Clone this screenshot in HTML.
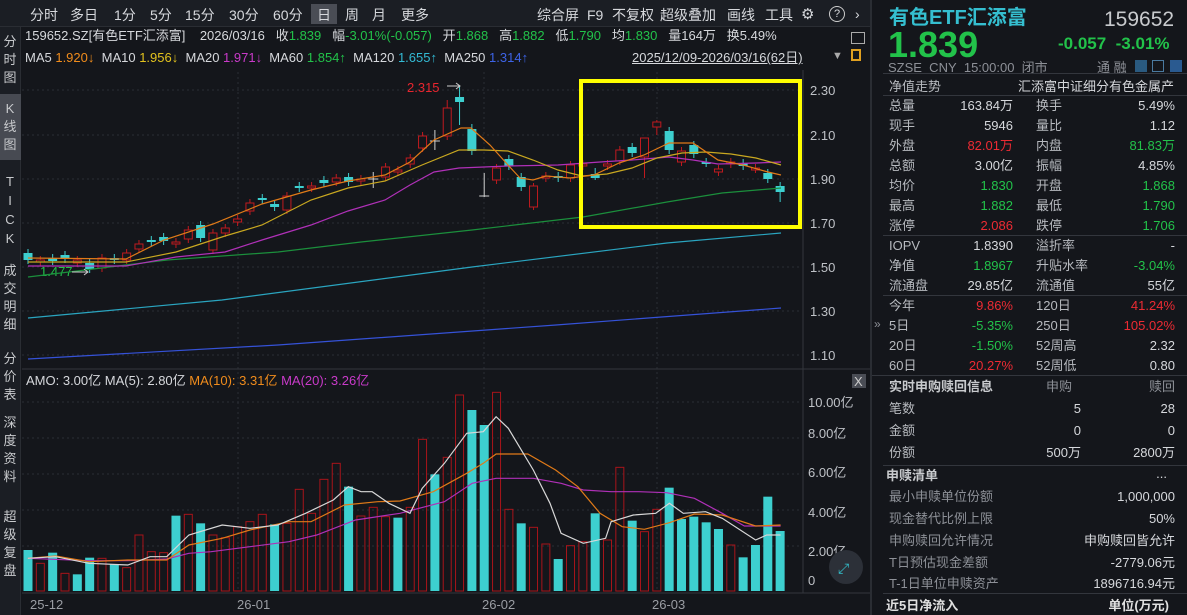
<!DOCTYPE html>
<html><head><meta charset="utf-8">
<style>
*{margin:0;padding:0;box-sizing:border-box}
body{width:1187px;height:615px;background:#14161b;overflow:hidden;position:relative;font-family:"Liberation Sans","Noto Sans CJK SC",sans-serif;color:#d6d8dc;font-size:13px}
.a{position:absolute;white-space:nowrap;line-height:1}
.g{color:#22c24a}.r{color:#ec2b33}.o{color:#f08c1c}.y{color:#e2c21e}.m{color:#c93ac9}.c{color:#33b9d3}.b{color:#3d63e6}.w{color:#d6d8dc}.gr{color:#8d9097}
.side{position:absolute;left:0;width:20px;text-align:center;font-size:13px;line-height:18px;color:#c8cacd}
.rp .a{font-size:13px}
.lab{color:#b7babf}
</style></head><body>
<!-- top bar -->
<div style="position:absolute;left:0;top:0;width:870px;height:27px;background:#1b1e24;border-bottom:1px solid #2a2d33"></div>
<div style="position:absolute;left:311px;top:4px;width:26px;height:20px;background:#4a4d55"></div>
<div class="a" style="top:8px;left:30px;font-size:14px">分时</div>
<div class="a" style="top:8px;left:70px;font-size:14px">多日</div>
<div class="a" style="top:8px;left:114px;font-size:14px">1分</div>
<div class="a" style="top:8px;left:150px;font-size:14px">5分</div>
<div class="a" style="top:8px;left:185px;font-size:14px">15分</div>
<div class="a" style="top:8px;left:229px;font-size:14px">30分</div>
<div class="a" style="top:8px;left:273px;font-size:14px">60分</div>
<div class="a" style="top:8px;left:317px;font-size:14px">日</div>
<div class="a" style="top:8px;left:345px;font-size:14px">周</div>
<div class="a" style="top:8px;left:372px;font-size:14px">月</div>
<div class="a" style="top:8px;left:401px;font-size:14px">更多</div>
<div class="a" style="top:8px;left:537px;font-size:14px">综合屏</div>
<div class="a" style="top:8px;left:587px;font-size:14px">F9</div>
<div class="a" style="top:8px;left:612px;font-size:14px">不复权</div>
<div class="a" style="top:8px;left:660px;font-size:14px">超级叠加</div>
<div class="a" style="top:8px;left:727px;font-size:14px">画线</div>
<div class="a" style="top:8px;left:765px;font-size:14px">工具</div>
<div class="a" style="top:7px;left:801px;font-size:15px">⚙</div>
<div class="a" style="top:6px;left:829px;width:16px;height:16px;border:1px solid #ccc;border-radius:50%;font-size:11px;text-align:center;line-height:14px">?</div>
<div class="a" style="top:7px;left:855px;font-size:14px">›</div>

<!-- left sidebar -->
<div style="position:absolute;left:0;top:27px;width:21px;height:588px;background:#1b1e24;border-right:1px solid #2a2d33"></div>
<div style="position:absolute;left:0;top:94px;width:21px;height:66px;background:#474a52"></div>
<div class="side" style="top:33px">分<br>时<br>图</div>
<div class="side" style="top:100px">K<br>线<br>图</div>
<div class="side" style="top:172px;line-height:19px">T<br>I<br>C<br>K</div>
<div class="side" style="top:262px">成<br>交<br>明<br>细</div>
<div class="side" style="top:350px">分<br>价<br>表</div>
<div class="side" style="top:414px">深<br>度<br>资<br>料</div>
<div class="side" style="top:508px">超<br>级<br>复<br>盘</div>

<!-- info rows -->
<div class="a" style="top:29px;left:25px">159652.SZ[有色ETF汇添富]&nbsp;&nbsp;&nbsp; 2026/03/16&nbsp;&nbsp; 收<span class="g">1.839</span>&nbsp;&nbsp; 幅<span class="g">-3.01%(-0.057)</span>&nbsp;&nbsp; 开<span class="g">1.868</span>&nbsp;&nbsp; 高<span class="g">1.882</span>&nbsp;&nbsp; 低<span class="g">1.790</span>&nbsp;&nbsp; 均<span class="g">1.830</span>&nbsp;&nbsp; 量164万&nbsp;&nbsp; 换5.49%</div>
<div class="a" style="top:51px;left:25px">MA5 <span class="o">1.920↓</span>&nbsp; MA10 <span class="y">1.956↓</span>&nbsp; MA20 <span class="m">1.971↓</span>&nbsp; MA60 <span class="g">1.854↑</span>&nbsp; MA120 <span class="c">1.655↑</span>&nbsp; MA250 <span class="b">1.314↑</span></div>
<div class="a" style="top:51px;left:632px;text-decoration:underline">2025/12/09-2026/03/16(62日)</div>
<div class="a" style="top:51px;left:832px;font-size:11px;color:#aaa">▼</div>
<div class="a" style="top:49px;left:851px;width:10px;height:12px;border:2px solid #e0a020"></div>
<div class="a" style="top:32px;left:851px;width:14px;height:12px;border:1px solid #aaa"></div>

<svg style="position:absolute;left:0;top:0" width="870" height="615" id="ch">
<g stroke="#2a2d34" stroke-dasharray="2,3" stroke-width="1">
<line x1="22" x2="800" y1="90" y2="90"/><line x1="22" x2="800" y1="135" y2="135"/><line x1="22" x2="800" y1="179" y2="179"/><line x1="22" x2="800" y1="223" y2="223"/><line x1="22" x2="800" y1="267" y2="267"/><line x1="22" x2="800" y1="311" y2="311"/><line x1="22" x2="800" y1="355" y2="355"/>
<line x1="238" x2="238" y1="72" y2="590"/><line x1="484" x2="484" y1="72" y2="590"/><line x1="657" x2="657" y1="72" y2="590"/>
<line x1="22" x2="800" y1="402" y2="402"/><line x1="22" x2="800" y1="438" y2="438"/><line x1="22" x2="800" y1="474" y2="474"/><line x1="22" x2="800" y1="510" y2="510"/><line x1="22" x2="800" y1="546" y2="546"/>
</g>
<line x1="803" x2="803" y1="70" y2="593" stroke="#33363d"/>
<line x1="22" x2="870" y1="369" y2="369" stroke="#33363d"/>
<line x1="22" x2="870" y1="593" y2="593" stroke="#33363d"/>
<g fill="#bfc2c7" font-size="13" font-family="Liberation Sans,sans-serif">
<text x="810" y="95">2.30</text><text x="810" y="140">2.10</text><text x="810" y="184">1.90</text><text x="810" y="228">1.70</text><text x="810" y="272">1.50</text><text x="810" y="316">1.30</text><text x="810" y="360">1.10</text>
<text x="808" y="407">10.00亿</text><text x="808" y="438">8.00亿</text><text x="808" y="477">6.00亿</text><text x="808" y="517">4.00亿</text><text x="808" y="556">2.00亿</text><text x="808" y="585">0</text>
<text x="30" y="609" fill="#9a9da3">25-12</text><text x="237" y="609" fill="#9a9da3">26-01</text><text x="482" y="609" fill="#9a9da3">26-02</text><text x="652" y="609" fill="#9a9da3">26-03</text>
</g>
<text x="407" y="92" fill="#e8252e" font-size="13" font-family="Liberation Sans">2.315</text>
<text x="40" y="276" fill="#22c24a" font-size="13" font-family="Liberation Sans">1.477</text>
<text x="26" y="385" fill="#d6d8dc" font-size="13" font-family="Liberation Sans,Noto Sans CJK SC">AMO: 3.00亿 MA(5): 2.80亿 <tspan fill="#f08c1c">MA(10): 3.31亿</tspan> <tspan fill="#c93ac9">MA(20): 3.26亿</tspan></text>
<rect x="852" y="374" width="14" height="14" fill="#4a4d55"/>
<text x="854" y="386" fill="#ccc" font-size="13">X</text>
<circle cx="846" cy="567" r="17" fill="#2c3038"/>
<text x="838" y="573" fill="#33c0cc" font-size="14">⤢</text>
<g id="cd"></g>
<rect x="581" y="81" width="219" height="146" fill="none" stroke="#ffff00" stroke-width="4"/>
</svg>

<!-- right panel -->
<div style="position:absolute;left:870px;top:0;width:2px;height:615px;background:#2a2d33"></div>
<div class="rp">
<div class="a" style="left:889px;top:8px;font-size:20px;font-weight:bold;color:#35bfd0">有色ETF汇添富</div>
<div class="a" style="left:1104px;top:9px;font-size:21px;color:#c8cacd">159652</div>
<div class="a g" style="left:888px;top:27px;font-size:36px;font-weight:bold">1.839</div>
<div class="a g" style="left:1058px;top:35px;font-size:17px;font-weight:bold">-0.057&nbsp; -3.01%</div>
<div class="a gr" style="left:888px;top:61px;font-size:13px">SZSE&nbsp; CNY&nbsp; 15:00:00&nbsp; 闭市</div>
<div class="a gr" style="left:1097px;top:61px;font-size:13px">通 融</div>
<div class="a" style="left:1135px;top:60px;width:12px;height:12px;background:#2a5a80"></div>
<div class="a" style="left:1152px;top:60px;width:12px;height:12px;border:1px solid #4a7aa0"></div>
<div class="a" style="left:1170px;top:60px;width:12px;height:12px;background:#2a5a90"></div>
<div style="position:absolute;left:883px;top:73px;width:304px;height:1px;background:#33363d"></div>
<div class="a lab" style="left:889px;top:80px">净值走势</div><div class="a" style="right:13px;top:80px">汇添富中证细分有色金属产</div>
<div style="position:absolute;left:883px;top:95px;width:304px;height:1px;background:#33363d"></div>
</div>
<div id="rows"></div>
<div style="position:absolute;left:883px;top:235px;width:304px;height:1px;background:#33363d"></div>
<div style="position:absolute;left:883px;top:295px;width:304px;height:1px;background:#33363d"></div>
<div style="position:absolute;left:872px;top:375px;width:315px;height:1px;background:#33363d"></div>
<div style="position:absolute;left:883px;top:465px;width:304px;height:1px;background:#33363d"></div>
<div style="position:absolute;left:883px;top:593px;width:304px;height:1px;background:#33363d"></div>
<div class="a gr" style="left:874px;top:318px;font-size:12px">»</div>

<script>
var rows=[
[99,"总量","163.84万","w","换手","5.49%","w"],
[119,"现手","5946","w","量比","1.12","w"],
[139,"外盘","82.01万","r","内盘","81.83万","g"],
[159,"总额","3.00亿","w","振幅","4.85%","w"],
[179,"均价","1.830","g","开盘","1.868","g"],
[199,"最高","1.882","g","最低","1.790","g"],
[219,"涨停","2.086","r","跌停","1.706","g"],
[239,"IOPV","1.8390","w","溢折率","-","w"],
[259,"净值","1.8967","g","升贴水率","-3.04%","g"],
[279,"流通盘","29.85亿","w","流通值","55亿","w"],
[299,"今年","9.86%","r","120日","41.24%","r"],
[319,"5日","-5.35%","g","250日","105.02%","r"],
[339,"20日","-1.50%","g","52周高","2.32","w"],
[359,"60日","20.27%","r","52周低","0.80","w"]];
var h="";
rows.forEach(function(r){h+='<div class="a lab" style="left:889px;top:'+r[0]+'px">'+r[1]+'</div><div class="a '+r[3]+'" style="right:174px;top:'+r[0]+'px">'+r[2]+'</div><div class="a lab" style="left:1036px;top:'+r[0]+'px">'+r[4]+'</div><div class="a '+r[6]+'" style="right:12px;top:'+r[0]+'px">'+r[5]+'</div>';});
h+='<div class="a" style="left:889px;top:380px;font-weight:bold;color:#c8cacd">实时申购赎回信息</div><div class="a gr" style="left:1046px;top:380px">申购</div><div class="a gr" style="right:12px;top:380px">赎回</div>';
[[402,"笔数","5","28"],[424,"金额","0","0"],[446,"份额","500万","2800万"]].forEach(function(r){h+='<div class="a lab" style="left:889px;top:'+r[0]+'px">'+r[1]+'</div><div class="a" style="right:106px;top:'+r[0]+'px">'+r[2]+'</div><div class="a" style="right:12px;top:'+r[0]+'px">'+r[3]+'</div>';});
h+='<div class="a" style="left:886px;top:469px;font-weight:bold;color:#c8cacd">申赎清单</div><div class="a" style="right:20px;top:467px">...</div>';
[[490,"最小申赎单位份额","1,000,000"],[512,"现金替代比例上限","50%"],[534,"申购赎回允许情况","申购赎回皆允许"],[556,"T日预估现金差额","-2779.06元"],[577,"T-1日单位申赎资产","1896716.94元"]].forEach(function(r){h+='<div class="a gr" style="left:889px;top:'+r[0]+'px">'+r[1]+'</div><div class="a" style="right:12px;top:'+r[0]+'px">'+r[2]+'</div>';});
h+='<div class="a" style="left:886px;top:599px;font-weight:bold;color:#e0e0e0">近5日净流入</div><div class="a" style="right:18px;top:599px;font-weight:bold;color:#e0e0e0">单位(万元)</div>';
document.getElementById('rows').innerHTML=h;

var C=[["c",253,260],["r",260,262],["c",258,261],["c",255,259],["r",260,263],["c",263,269],["r",258,268],["c",258,260],["r",253,260],["r",244,249],["c",240,242],["c",237,241],["r",242,244],["r",230,239],["c",225,238],["r",233,250],["r",228,233],["r",219,222],["r",203,211],["c",198,200],["c",204,207],["r",196,210],["c",186,188],["r",186,188],["c",180,183],["r",178,182],["c",177,182],["r",179,181],["w",179,180],["r",167,177],["r",170,172],["r",158,164],["r",136,148],["w",141,142],["r",108,136],["c",97,102],["c",129,151],["w",196,197],["r",168,180],["c",159,166],["c",177,187],["r",186,207],["r",176,178],["c",176,178],["r",165,178],["r",164,166],["c",174,178],["r",164,166],["r",150,161],["c",147,153],["r",138,157],["r",122,127],["c",131,150],["r",151,162],["c",145,154],["c",162,163],["r",169,172],["r",162,164],["c",163,166],["r",168,169],["c",173,179],["c",186,192]];
var W={35:[100,140],36:[86,125],37:[124,155],38:[173,197],42:[183,210],52:[120,135],62:[182,202],34:[130,150],29:[172,188],51:[152,178],47:[168,180]};
var V=[["c",540],["r",580],["c",548],["r",610],["c",613],["c",563],["r",565],["c",583],["r",593],["r",495],["r",545],["r",548],["c",437],["r",433],["c",460],["r",495],["r",503],["r",470],["r",455],["r",433],["c",463],["r",460],["r",358],["r",430],["r",328],["r",280],["c",350],["r",438],["r",412],["r",440],["c",443],["r",412],["r",208],["c",313],["r",262],["r",75],["c",120],["c",165],["r",67],["r",418],["c",460],["r",472],["r",522],["c",567],["r",527],["r",515],["c",430],["r",510],["r",292],["c",452],["r",485],["r",418],["c",353],["c",447],["c",440],["c",457],["c",477],["r",525],["c",562],["c",525],["c",380],["c",483]];
var s="";
function X(i){return 28+i*12.33;}
V.forEach(function(v,i){var x=X(i),t=370+v[1]/3;
 if(v[0]=="c")s+='<rect x="'+(x-4.5)+'" y="'+t+'" width="9" height="'+(591-t)+'" fill="#3dcfcf"/>';
 else s+='<rect x="'+(x-4)+'" y="'+t+'" width="8" height="'+(591-t)+'" fill="none" stroke="#a8141a" stroke-width="1"/>';});
C.forEach(function(c,i){var x=X(i),k=c[0],t=c[1],b=c[2];var w=W[i+1]||[t-4,b+4];
 var col=k=="c"?"#3dcfcf":(k=="r"?"#c01a1f":"#d0d0d0");
 s+='<line x1="'+x+'" x2="'+x+'" y1="'+w[0]+'" y2="'+w[1]+'" stroke="'+col+'"/>';
 if(k=="c")s+='<rect x="'+(x-4.5)+'" y="'+t+'" width="9" height="'+Math.max(2,b-t)+'" fill="#3dcfcf"/>';
 else if(k=="r")s+='<rect x="'+(x-4)+'" y="'+t+'" width="8" height="'+Math.max(2,b-t)+'" fill="#14161b" stroke="#c01a1f"/>';
 else s+='<line x1="'+(x-5)+'" x2="'+(x+5)+'" y1="'+t+'" y2="'+t+'" stroke="#d0d0d0"/>';});
function pl(p,c,w){return '<polyline fill="none" stroke="'+c+'" stroke-width="'+(w||1.2)+'" points="'+p.map(function(q){return q.join(",")}).join(" ")+'"/>';}
function zv(p){return p.map(function(q){return [(q[0]/1.8).toFixed(1),(370+q[1]/3).toFixed(1)];});}
s+=pl([[28,359],[278,345],[556,325],[781,308]],"#3552d8");
s+=pl([[28,318],[222,300],[472,267],[667,243],[781,233]],"#2aa5c0");
s+=pl([[28,277],[167,260],[278,252],[361,242],[472,230],[583,217],[667,202],[722,193],[781,188]],"#1b8f3c");
s+=pl([[28,266],[126,266],[176,257],[225,252],[262,240],[311,225],[348,211],[385,200],[410,185],[434,172],[459,168],[484,167],[508,166],[558,165],[600,162],[632,160],[669,157],[693,160],[718,164],[756,163],[781,162]],"#b030b8");
s+=pl([[28,262],[126,262],[176,252],[225,236],[262,225],[311,200],[348,188],[385,181],[422,165],[459,150],[484,150],[508,151],[533,160],[558,170],[582,176],[607,174],[632,168],[657,158],[682,153],[706,152],[731,154],[756,158],[781,165]],"#c9a820");
s+=pl([[28,258],[126,259],[164,240],[213,224],[262,204],[311,190],[348,181],[385,175],[410,162],[434,140],[461,128],[471,128],[490,145],[508,165],[520,178],[533,180],[546,176],[570,178],[594,175],[619,163],[644,155],[669,143],[693,143],[718,160],[743,165],[768,172],[781,175]],"#e07a18");
s+=pl(zv([[50,565],[160,572],[230,572],[300,567],[340,550],[380,545],[450,530],[520,515],[570,495],[640,450],[720,430],[800,395],[850,340],[893,325],[960,325],[1010,340],[1050,360],[1100,365],[1150,365],[1200,368],[1250,385],[1300,430],[1340,468],[1405,468]]),"#b030b8");
s+=pl(zv([[50,565],[100,558],[160,575],[230,570],[300,570],[340,525],[400,505],[450,480],[520,455],[560,455],[620,405],[680,395],[720,393],[780,365],[840,310],[870,280],[893,252],[950,252],[1000,300],[1040,350],[1080,430],[1120,470],[1160,478],[1205,458],[1250,432],[1300,435],[1360,468],[1405,465]]),"#e07a18");
s+=pl(zv([[50,565],[100,560],[160,580],[230,585],[270,560],[300,560],[340,495],[400,465],[450,475],[500,465],[550,430],[600,390],[627,350],[650,365],[670,365],[700,400],[738,430],[760,355],[800,280],[840,190],[870,185],[893,140],[915,175],[960,300],[990,400],[1010,490],[1050,520],[1090,505],[1100,455],[1140,435],[1180,430],[1205,400],[1230,430],[1270,425],[1300,445],[1360,510],[1380,495],[1405,495]]),"#d8d8d8");
s+='<path d="M447 86 H460 M456 83 L460 86 L456 89" stroke="#ccc" fill="none"/><path d="M72 272 H88 M84 269 L88 272 L84 275" stroke="#ccc" fill="none"/>';
document.getElementById('cd').innerHTML=s;
</script>
</body></html>
